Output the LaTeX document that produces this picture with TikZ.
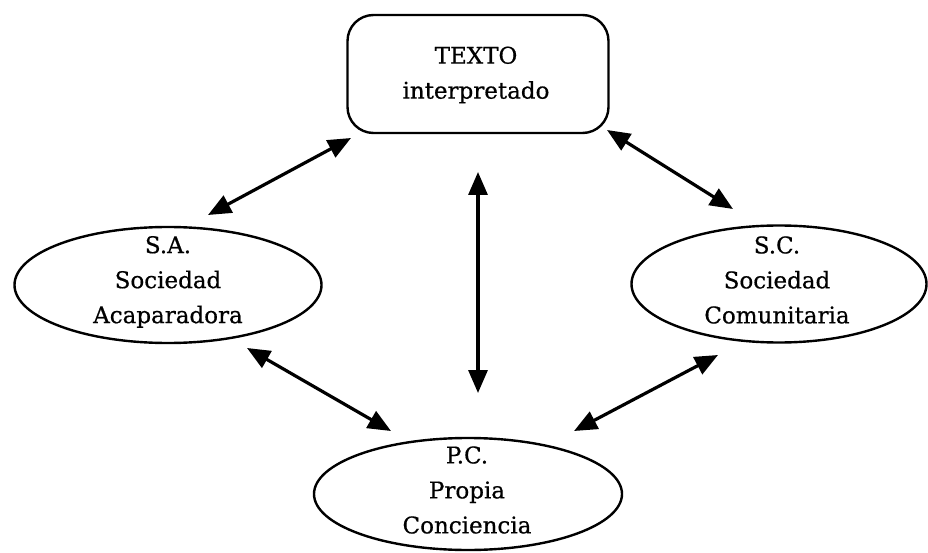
\documentclass[tikz,border=0pt]{standalone}
\usepackage{fontspec}
\setmainfont{DejaVu Serif}
\newfontfamily\lblfont[FakeBold=0.6]{DejaVu Serif}
\usetikzlibrary{arrows.meta,shapes.geometric}
\begin{document}
\begin{tikzpicture}[x=1pt,y=-1pt,
  lbl/.style={font=\lblfont\fontsize{23}{35}\selectfont, align=center, inner sep=0pt},
  oval/.style={draw, line width=2.4pt, ellipse, inner sep=0pt},
  dbl/.style={line width=3.2pt, {Triangle[length=23pt,width=19pt]}-{Triangle[length=23pt,width=19pt]}}]
\useasboundingbox (0,0) rectangle (928,553);
% top box
\node[draw, line width=2.4pt, rounded corners=26pt, minimum width=261pt, minimum height=118pt] (t) at (478,74) {};
\node[lbl] (tt) at (476,75) {TEXTO\\interpretado};
% ellipses
\node[oval, minimum width=307pt, minimum height=116pt] (sa) at (168,285) {};
\node[lbl] (sat) at (168,282) {S.A.\\Sociedad\\Acaparadora};
\node[oval, minimum width=295pt, minimum height=117pt] (sc) at (779,284) {};
\node[lbl] (sct) at (777,280) {S.C.\\Sociedad\\Comunitaria};
\node[oval, minimum width=308pt, minimum height=112pt] (pc) at (468,494) {};
\node[lbl] (pct) at (467,490) {P.C.\\Propia\\Conciencia};
% arrow ends
\coordinate (a1) at (208,215); \coordinate (a2) at (351,138);
\coordinate (b1) at (607,130); \coordinate (b2) at (733,209);
\coordinate (c1) at (478,172); \coordinate (c2) at (478,393);
\coordinate (d1) at (247,348); \coordinate (d2) at (391,431);
\coordinate (e1) at (718,355); \coordinate (e2) at (574,431);
\draw[dbl] (a1) -- (a2);
\draw[dbl] (b1) -- (b2);
\draw[dbl] (c1) -- (c2);
\draw[dbl] (d1) -- (d2);
\draw[dbl] (e1) -- (e2);
\end{tikzpicture}
\end{document}
